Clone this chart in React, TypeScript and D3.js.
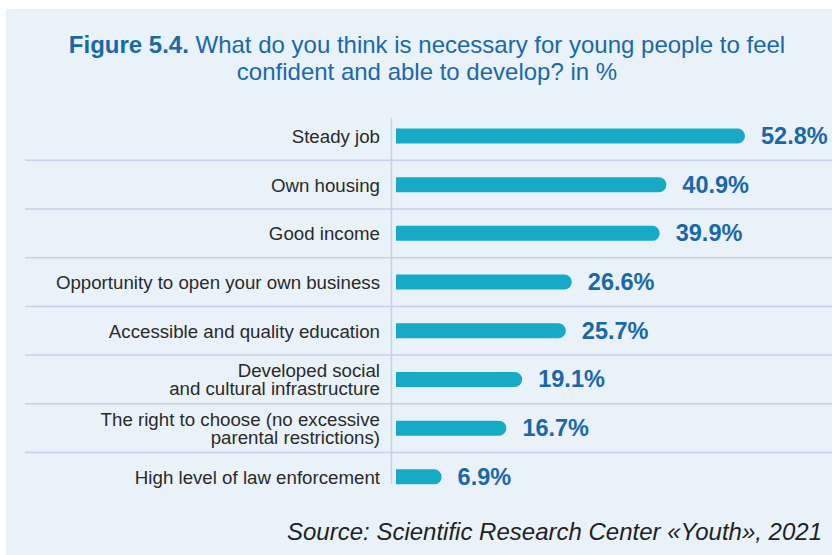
import React from "react";
import * as d3 from "d3";

const categories: string[][] = [
  ["Steady job"],
  ["Own housing"],
  ["Good income"],
  ["Opportunity to open your own business"],
  ["Accessible and quality education"],
  ["Developed social", "and cultural infrastructure"],
  ["The right to choose (no excessive", "parental restrictions)"],
  ["High level of law enforcement"],
];
const values: number[] = [52.8, 40.9, 39.9, 26.6, 25.7, 19.1, 16.7, 6.9];
const valueLabels: string[] = ["52.8%", "40.9%", "39.9%", "26.6%", "25.7%", "19.1%", "16.7%", "6.9%"];

const W = 832;
const H = 555;
const FONT = "'Liberation Sans', Arial, Helvetica, sans-serif";

export default function App() {
  const ids = categories.map((_, i) => String(i));
  const y = d3.scaleBand<string>().domain(ids).range([111.6, 501.2]).paddingInner(0).paddingOuter(0);
  const x = d3.scaleLinear().domain([0, 52.8]).range([396, 745]);
  const barH = 15;
  const r = barH / 2;

  const barPath = (v: number, cy: number) => {
    const x0 = x(0);
    const x1 = x(v);
    const top = cy - barH / 2;
    const p = d3.path();
    p.moveTo(x0, top);
    p.lineTo(x1 - r, top);
    p.arc(x1 - r, cy, r, -Math.PI / 2, Math.PI / 2);
    p.lineTo(x0, top + barH);
    p.closePath();
    return p.toString();
  };

  return (
    <svg width={W} height={H} style={{ position: "absolute", left: 0, top: 0, display: "block" }}>
      <rect x={0} y={0} width={W} height={H} fill="#ffffff" />
      <rect x={6} y={9} width={W - 6} height={H - 9} fill="#e9f2f9" />
      <g fontFamily={FONT} fill="#1b68a8" fontSize={24} textAnchor="middle">
        <text x={427} y={53}>
          <tspan fontWeight="bold">Figure 5.4.</tspan>
          <tspan> What do you think is necessary for young people to feel</tspan>
        </text>
        <text x={427} y={80}>confident and able to develop? in %</text>
      </g>
      {ids.slice(1).map((id) => (
        <line key={"g" + id} x1={25} x2={W} y1={y(id)!} y2={y(id)!} stroke="#c3d2e8" strokeWidth={1.5} />
      ))}
      <line x1={391.5} x2={391.5} y1={118} y2={484} stroke="#c3d2e8" strokeWidth={1.5} />
      {ids.map((id, i) => {
        const cy = y(id)! + y.bandwidth() / 2;
        const lines = categories[i];
        return (
          <g key={id}>
            <path d={barPath(values[i], cy)} fill="#17aac7" />
            <text
              x={x(values[i]) + 16}
              y={cy + 8}
              fontFamily={FONT}
              fontWeight="bold"
              fontSize={23.5}
              fill="#1b68a8"
            >
              {valueLabels[i]}
            </text>
            <text x={380} fontFamily={FONT} fontSize={18.7} fill="#2a2a2a" textAnchor="end">
              {lines.length === 1 ? (
                <tspan x={380} y={cy + 7}>{lines[0]}</tspan>
              ) : (
                lines.map((l, k) => (
                  <tspan key={k} x={380} y={cy - 2.5 + k * 18.5}>{l}</tspan>
                ))
              )}
            </text>
          </g>
        );
      })}
      <text x={822} y={540} fontFamily={FONT} fontStyle="italic" fontSize={24} fill="#222" textAnchor="end">
        Source: Scientific Research Center «Youth», 2021
      </text>
    </svg>
  );
}
